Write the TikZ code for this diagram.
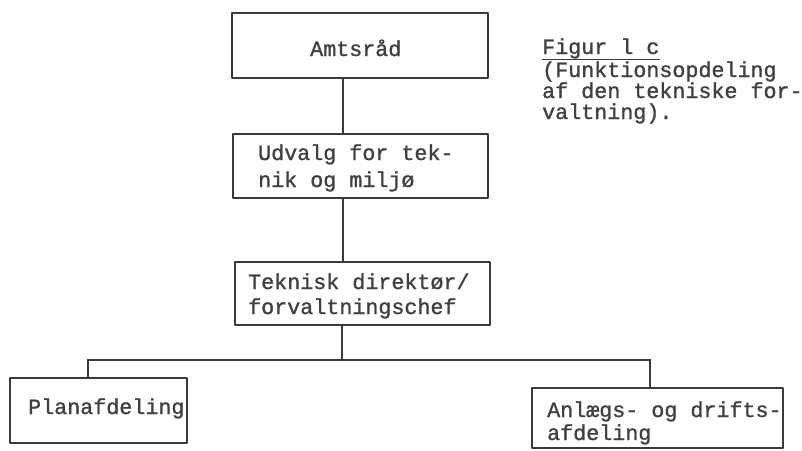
\documentclass[tikz,border=0pt]{standalone}
\usepackage{fontspec}
\setmainfont{Liberation Mono}[FakeBold=1.2]
\definecolor{ink}{HTML}{3A3A3A}
\definecolor{txtc}{HTML}{404040}
\begin{document}
\begin{tikzpicture}[x=1pt,y=-1pt,
  box/.style={draw=ink, line width=2.4pt, inner sep=0pt, line join=round},
  conn/.style={draw=ink, line width=1.7pt},
  txt/.style={inner sep=0pt, anchor=base west, text=txtc, font=\fontsize{21.7}{26}\selectfont}]
\useasboundingbox (0,0) rectangle (802,450);
% boxes
\node[box, minimum width=256pt, minimum height=65pt] (amt) at (360,45.5) {};
\node[box, minimum width=255pt, minimum height=64pt] (udv) at (360.5,166) {};
\node[box, minimum width=255pt, minimum height=63pt] (tek) at (362.5,293.5) {};
\node[box, minimum width=177pt, minimum height=65pt] (plan) at (98.5,410.5) {};
\node[box, minimum width=251pt, minimum height=60pt] (anl) at (657.5,418) {};
% texts
\node[txt] (tamt) at (310,56) {Amtsråd};
\node[txt] (tudv1) at (258,160) {Udvalg for tek-};
\node[txt] (tudv2) at (258,187) {nik og miljø};
\node[txt] (ttek1) at (248,289) {Teknisk direktør/};
\node[txt] (ttek2) at (248,314) {forvaltningschef};
\node[txt] (tplan) at (28,414) {Planafdeling};
\node[txt] (tanl1) at (547,417) {Anlægs- og drifts-};
\node[txt] (tanl2) at (547,440) {afdeling};
% caption
\node[txt] (cap1) at (542,54) {Figur l c};
\node[txt] (cap2) at (542,77) {(Funktionsopdeling};
\node[txt] (cap3) at (542,98) {af den tekniske for-};
\node[txt] (cap4) at (542,119) {valtning).};
\draw[draw=ink, line width=1.4pt] ([yshift=-5.5pt]cap1.base west) -- ([yshift=-5.5pt]cap1.base east);
% connector coordinates
\coordinate (c1) at (343,0);
\coordinate (bj) at (342,360);
\coordinate (bl) at (88,360);
\coordinate (br) at (650,360);
% connectors
\draw[conn] (amt.south -| c1) -- (udv.north -| c1);
\draw[conn] (udv.south -| c1) -- (tek.north -| c1);
\draw[conn] (tek.south -| bj) -- (bj);
\draw[conn] (plan.north -| bl) -- (bl) -- (br) -- (anl.north -| br);
\end{tikzpicture}
\end{document}
